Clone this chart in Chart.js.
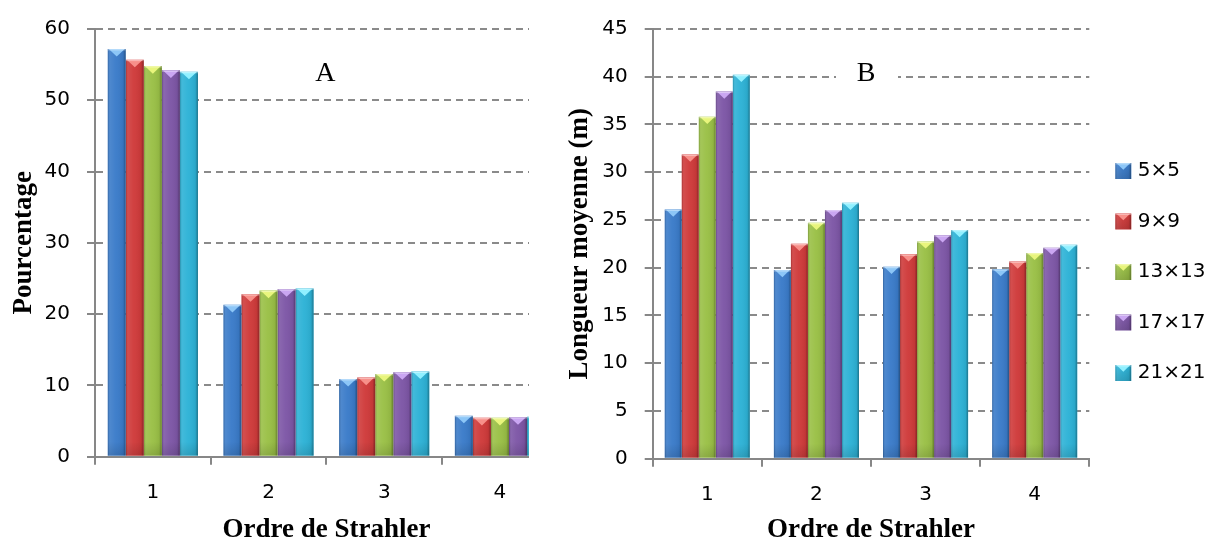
<!DOCTYPE html>
<html><head><meta charset="utf-8">
<script src="https://cdn.jsdelivr.net/npm/chart.js@4/dist/chart.umd.min.js"></script>
<style>
html,body{margin:0;padding:0;background:#fff;overflow:hidden;width:1213px;height:544px}
#wrapA{position:absolute;left:0;top:0;width:529px;height:544px;overflow:hidden}
#wrapB{position:absolute;left:540px;top:0;width:673px;height:544px}
canvas{display:block}
</style></head><body>
<div id="wrapA"><canvas id="cA" width="575" height="544"></canvas></div>
<div id="wrapB"><canvas id="cB" width="673" height="544"></canvas></div>
<script>
// ---- data ----
const categories = ['1', '2', '3', '4'];
const seriesLabels = ['5×5', '9×9', '13×13', '17×17', '21×21'];

// Panel A : Pourcentage
const pctA_5x5   = [57.2, 21.3, 10.9, 5.75];
const pctA_9x9   = [55.7, 22.8, 11.1, 5.45];
const pctA_13x13 = [54.8, 23.3, 11.6, 5.45];
const pctA_17x17 = [54.2, 23.5, 11.85, 5.55];
const pctA_21x21 = [54.0, 23.6, 11.95, 5.6];

// Panel B : Longueur moyenne (m)
const lenB_5x5   = [26.1, 19.75, 20.1, 19.85];
const lenB_9x9   = [31.85, 22.5, 21.4, 20.65];
const lenB_13x13 = [35.8, 24.7, 22.75, 21.55];
const lenB_17x17 = [38.45, 26.05, 23.4, 22.1];
const lenB_21x21 = [40.2, 26.8, 23.95, 22.4];

const yMaxA = 60, yStepA = 10;
const yMaxB = 45, yStepB = 5;
const xTitle = 'Ordre de Strahler';
const yTitleA = 'Pourcentage';
const yTitleB = 'Longueur moyenne (m)';

// ---- styles ----
const baseColors  = ['#3a7bc9', '#cf3a3a', '#9ac046', '#7d56a6', '#2db2d6'];
const lightColors = ['#8cc6f7', '#f7908a', '#e8f57c', '#caa6f2', '#90f0ff'];
const AXIS = '#878787', GRID = '#8a8a8a';
const tickFont = {family: 'DejaVu Sans', size: 20};
const titleFont = {family: 'Liberation Serif', size: 27, weight: 'bold', lineHeight: 1};

function drawBevel(ctx, l, t, w, h, light) {
  if (h <= 0 || w <= 0) return;
  ctx.save();
  ctx.beginPath(); ctx.rect(l, t, w, h); ctx.clip();
  const g = ctx.createLinearGradient(l, 0, l + w, 0);
  g.addColorStop(0, 'rgba(0,0,0,0.22)');
  g.addColorStop(0.12, 'rgba(255,255,255,0.10)');
  g.addColorStop(0.45, 'rgba(255,255,255,0.03)');
  g.addColorStop(0.85, 'rgba(0,0,0,0.06)');
  g.addColorStop(1, 'rgba(0,0,0,0.35)');
  ctx.fillStyle = g; ctx.fillRect(l, t, w, h);
  const gb = ctx.createLinearGradient(0, t + h - 14, 0, t + h);
  gb.addColorStop(0, 'rgba(0,0,0,0)');
  gb.addColorStop(1, 'rgba(0,0,0,0.12)');
  ctx.fillStyle = gb; ctx.fillRect(l, Math.max(t, t + h - 14), w, Math.min(14, h));
  const th = Math.min(w * 0.42, h);
  ctx.beginPath(); ctx.moveTo(l + 1, t); ctx.lineTo(l + w - 1, t); ctx.lineTo(l + w / 2, t + th); ctx.closePath();
  ctx.fillStyle = light; ctx.fill();
  ctx.fillStyle = 'rgba(255,255,255,0.35)'; ctx.fillRect(l, t, w, 1.5);
  ctx.restore();
}

const bevelPlugin = {
  id: 'bevel',
  afterDatasetsDraw(chart) {
    const ctx = chart.ctx;
    chart.data.datasets.forEach((ds, di) => {
      const meta = chart.getDatasetMeta(di);
      meta.data.forEach(bar => {
        const p = bar.getProps(['x', 'y', 'base', 'width'], true);
        drawBevel(ctx, p.x - p.width / 2, p.y, p.width, p.base - p.y, lightColors[di]);
      });
    });
  }
};

const panelLabelPlugin = {
  id: 'panelLabel',
  afterDraw(chart, args, opts) {
    if (!opts || !opts.text) return;
    const ctx = chart.ctx;
    const xs = chart.scales.x;
    const x = (xs.getPixelForValue(1) + xs.getPixelForValue(2)) / 2 + (opts.dx || 0);
    const y = chart.scales.y.getPixelForValue(opts.yValue);
    ctx.save();
    if (opts.clear) {
      ctx.fillStyle = '#fff';
      ctx.fillRect(x - 30, y - 16, 62, 32);
    }
    ctx.fillStyle = '#000';
    ctx.font = '28px "Liberation Serif", "Times New Roman", serif';
    ctx.textAlign = 'center'; ctx.textBaseline = 'middle';
    ctx.fillText(opts.text, x, y);
    ctx.restore();
  }
};

const sideLegendPlugin = {
  id: 'sideLegend',
  afterDraw(chart, args, opts) {
    if (!opts || !opts.show) return;
    const ctx = chart.ctx;
    const area = chart.chartArea;
    const n = chart.data.datasets.length;
    const spacing = 50.5, box = 16;
    const x0 = area.right + 26;
    const cy = chart.height / 2;
    ctx.save();
    chart.data.datasets.forEach((ds, i) => {
      const yc = cy + (i - (n - 1) / 2) * spacing;
      ctx.fillStyle = ds.backgroundColor;
      ctx.fillRect(x0, yc - box / 2, box, box);
      drawBevel(ctx, x0, yc - box / 2, box, box, lightColors[i]);
      ctx.fillStyle = '#000';
      ctx.font = '20px "DejaVu Sans"';
      ctx.textAlign = 'left'; ctx.textBaseline = 'middle';
      ctx.fillText(ds.label, x0 + box + 6.5, yc);
    });
    ctx.restore();
  }
};

function makeDatasets(arrays) {
  return arrays.map((arr, i) => ({
    label: seriesLabels[i],
    data: arr,
    backgroundColor: baseColors[i],
    borderWidth: 0,
    categoryPercentage: 0.78,
    barPercentage: 1.0
  }));
}

function makeOptions(cfg) {
  return {
    responsive: false,
    animation: false,
    devicePixelRatio: 1,
    layout: {padding: {left: 0, right: cfg.rightPad, top: 23.3, bottom: 0}},
    plugins: {
      legend: {display: false},
      tooltip: {enabled: false},
      panelLabel: cfg.label,
      sideLegend: {show: cfg.legend}
    },
    scales: {
      x: {
        grid: {drawOnChartArea: false, drawTicks: true, tickLength: 8, color: AXIS, lineWidth: 2, offset: true},
        border: {color: AXIS, width: 2},
        ticks: {font: tickFont, color: '#000', padding: 16},
        title: {display: true, text: xTitle, color: '#000', font: titleFont, padding: {top: 0, bottom: 0}},
        afterFit(s) { s.height = cfg.xHeight; }
      },
      y: {
        min: 0, max: cfg.yMax,
        ticks: {stepSize: cfg.yStep, font: tickFont, color: '#000', padding: 17},
        grid: {color: GRID, lineWidth: 2, tickLength: 8, tickColor: AXIS, tickWidth: 2, tickBorderDash: []},
        border: {color: AXIS, width: 2, dash: [7, 5]},
        title: {display: true, text: cfg.yTitle, color: '#000', font: titleFont, padding: {top: cfg.yTitlePad, bottom: 0}},
        afterFit(s) { s.width = cfg.yWidth; }
      }
    }
  };
}

new Chart(document.getElementById('cA'), {
  type: 'bar',
  data: {labels: categories, datasets: makeDatasets([pctA_5x5, pctA_9x9, pctA_13x13, pctA_17x17, pctA_21x21])},
  options: makeOptions({rightPad: 17.2, xHeight: 87.3, yMax: yMaxA, yStep: yStepA, yTitle: yTitleA, yTitlePad: 11, yWidth: 95,
    label: {text: 'A', yValue: 53.8, dx: -1, clear: false}, legend: false}),
  plugins: [bevelPlugin, panelLabelPlugin, sideLegendPlugin]
});

new Chart(document.getElementById('cB'), {
  type: 'bar',
  data: {labels: categories, datasets: makeDatasets([lenB_5x5, lenB_9x9, lenB_13x13, lenB_17x17, lenB_21x21])},
  options: makeOptions({rightPad: 123.7, xHeight: 85.3, yMax: yMaxB, yStep: yStepB, yTitle: yTitleB, yTitlePad: 26.5, yWidth: 112.7,
    label: {text: 'B', yValue: 40.3, dx: -5, clear: true}, legend: true}),
  plugins: [bevelPlugin, panelLabelPlugin, sideLegendPlugin]
});
</script>
</body></html>
